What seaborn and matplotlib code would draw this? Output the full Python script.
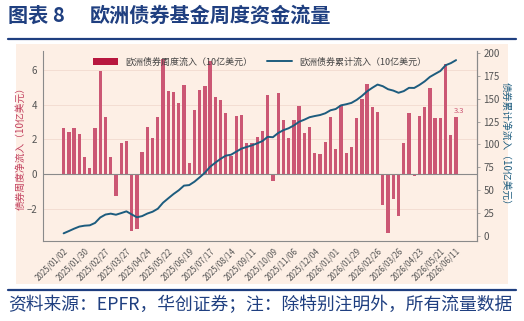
import numpy as np
import pandas as pd
import matplotlib
matplotlib.use("Agg")
import matplotlib.pyplot as plt
from matplotlib.patches import Patch, Rectangle
from matplotlib.lines import Line2D
import seaborn as sns

# ---------------- data ----------------
dates = pd.date_range("2025-01-02", periods=76, freq="7D").strftime("%Y/%m/%d").tolist()

weekly_flow = [2.64, 2.43, 2.64, 2.31, 1.00, 0.35, 2.66, 5.92, 3.28, 0.98,
               -1.23, 1.79, 1.89, -3.26, -3.16, 1.29, 2.72, 2.06, 3.31, 6.61,
               4.78, 4.70, 4.07, 5.10, 0.62, 3.68, 4.86, 5.09, 6.47, 4.45,
               4.26, 3.51, 1.02, 3.33, 3.37, 1.79, 1.79, 2.16, 2.50, 4.57,
               -0.39, 4.64, 3.12, 2.10, 3.12, 3.91, 2.35, 2.72, 1.23, 1.18,
               1.83, 3.29, 1.45, 3.99, 1.19, 1.56, 3.22, 4.30, 5.16, 3.83,
               3.55, -1.77, -3.37, -1.43, -2.41, 1.81, 3.53, -0.08, 3.35, 3.83,
               4.95, 3.24, 3.24, 6.32, 2.25, 3.29]

cumulative_flow = [2.6, 5.1, 7.7, 10.0, 11.0, 11.4, 14.0, 20.0, 23.2, 24.2,
                   23.0, 24.8, 26.7, 23.4, 20.2, 21.5, 24.3, 26.3, 29.6, 36.2,
                   41.0, 45.7, 49.8, 54.9, 55.5, 59.2, 64.0, 69.1, 75.6, 80.1,
                   84.3, 87.8, 88.8, 92.2, 95.5, 97.3, 99.1, 101.3, 103.8, 108.4,
                   108.0, 112.6, 115.7, 117.8, 120.9, 124.9, 127.2, 129.9, 131.2, 132.3,
                   134.2, 137.5, 138.9, 142.9, 144.1, 145.6, 148.9, 153.2, 158.3, 162.2,
                   165.7, 163.9, 160.6, 159.1, 156.7, 158.5, 162.1, 162.0, 165.3, 169.2,
                   174.1, 177.4, 180.6, 186.9, 189.2, 192.5]

tick_dates = ["2025/01/02", "2025/01/30", "2025/02/27", "2025/03/27", "2025/04/24",
              "2025/05/22", "2025/06/19", "2025/07/17", "2025/08/14", "2025/09/11",
              "2025/10/09", "2025/11/06", "2025/12/04", "2026/01/01", "2026/01/29",
              "2026/02/26", "2026/03/26", "2026/04/23", "2026/05/21", "2026/06/11"]

legend_bar = "欧洲债券周度流入（10亿美元）"
legend_line = "欧洲债券累计流入（10亿美元）"
left_label = "债券周度净流入（10亿美元）"
right_label = "债券累计净流入（10亿美元）"
title_num = "图表 8"
title_text = "欧洲债券基金周度资金流量"
footer = "资料来源：EPFR，华创证券；注：除特别注明外，所有流量数据"

df = pd.DataFrame({"date": dates, "weekly": weekly_flow,
                   "cum": cumulative_flow, "pos": np.arange(len(dates))})

# ---------------- style ----------------
sns.set_style("white")
plt.rcParams["font.family"] = ["Noto Sans CJK SC", "DejaVu Sans"]
plt.rcParams["axes.unicode_minus"] = True

BAR = "#CB5774"
BAR_LEG = "#B8173F"
LINE = "#1D5C7E"
BLUE = "#1F3F80"
PEACH = "#FDEFE5"
GREY = "#555555"

W, H = 524, 321
fig = plt.figure(figsize=(W / 100, H / 100), dpi=100)
fig.patch.set_facecolor("white")

# peach panel
fig.add_artist(Rectangle((16 / W, 1 - 284 / H), (508 - 16) / W, (284 - 44) / H,
                         transform=fig.transFigure, facecolor=PEACH,
                         edgecolor="none", zorder=0))
# blue rules
fig.add_artist(Line2D([8 / W, 516 / W], [1 - 38.5 / H, 1 - 38.5 / H],
                      transform=fig.transFigure, color=BLUE, lw=1.6))
fig.add_artist(Line2D([8 / W, 516 / W], [1 - 290 / H, 1 - 290 / H],
                      transform=fig.transFigure, color=BLUE, lw=1.6))

fig.text(8 / W, 1 - 15 / H, title_num, fontsize=14.5, fontweight="bold",
         color=BLUE, va="center", ha="left")
fig.text(90 / W, 1 - 15 / H, title_text, fontsize=14.5, fontweight="bold",
         color=BLUE, va="center", ha="left")
fig.text(8 / W, 1 - 305 / H, footer, fontsize=12.8, color=BLUE,
         va="center", ha="left")

ax = fig.add_axes([42.7 / W, 1 - 241 / H, (477 - 42.7) / W, (241 - 51) / H])
ax.set_facecolor("none")

sns.barplot(data=df, x="date", y="weekly", color=BAR, width=0.63,
            saturation=1, ax=ax, zorder=3)
for p in ax.patches:
    p.set_edgecolor("none")

ax.set_ylim(-3.83, 7.07)
ax.set_xlim(-4.0, 79.0)
ax.set_yticks([-2, 0, 2, 4, 6])
ax.set_yticklabels(["−2", "0", "2", "4", "6"])
for y in [-2, 2, 4, 6]:
    ax.axhline(y, color="#F3DDD2", lw=0.7, zorder=1)
ax.axhline(0, color="#8A8A8A", lw=0.8, zorder=4)

tick_pos = [dates.index(d) for d in tick_dates]
ax.set_xticks(tick_pos)
ax.set_xticklabels(tick_dates, rotation=45, ha="right", rotation_mode="anchor",
                   fontsize=5.8, color=GREY)
ax.tick_params(axis="x", length=2, width=0.5, color="#888888", pad=2)
ax.tick_params(axis="y", labelsize=7, labelcolor=GREY, length=0, pad=4)
ax.set_xlabel("")
ax.set_ylabel(left_label, color="#C2405F", fontsize=7, labelpad=1)

ax.spines["top"].set_visible(False)
for s in ["left", "bottom", "right"]:
    ax.spines[s].set_color("#8A8A8A")
    ax.spines[s].set_linewidth(0.8)

# value label on last bar
ax.text(len(dates) - 1 + 0.6, weekly_flow[-1] + 0.12, f"{weekly_flow[-1]:.1f}",
        color=BAR, fontsize=5.5, ha="center", va="bottom", zorder=5)

ax2 = ax.twinx()
sns.lineplot(data=df, x="pos", y="cum", color=LINE, lw=1.4, ax=ax2, zorder=5)
ax2.set_ylim(-5.8, 202.5)
ax2.set_yticks(range(0, 201, 25))
ax2.tick_params(axis="y", labelsize=7, labelcolor=GREY, length=2.5,
                width=0.5, color="#888888", pad=2)
ax2.set_ylabel(right_label, color=LINE, fontsize=7, rotation=270, labelpad=8)
ax2.set_xlabel("")
ax2.spines["top"].set_visible(False)
ax2.spines["left"].set_visible(False)
ax2.spines["bottom"].set_visible(False)
ax2.spines["right"].set_color("#8A8A8A")
ax2.spines["right"].set_linewidth(0.8)
ax2.set_xlim(-4.0, 79.0)

handles = [Patch(facecolor=BAR_LEG, edgecolor="none"),
           Line2D([0], [0], color=LINE, lw=1.4)]
leg = ax2.legend(handles, [legend_bar, legend_line], loc="upper center",
                 bbox_to_anchor=(0.50, 1.01), ncol=2, frameon=False,
                 fontsize=6.5, handlelength=2.8, handleheight=0.8,
                 columnspacing=1.6, handletextpad=0.8)
for t in leg.get_texts():
    t.set_color("#444444")

fig.savefig("out.png", dpi=100)
